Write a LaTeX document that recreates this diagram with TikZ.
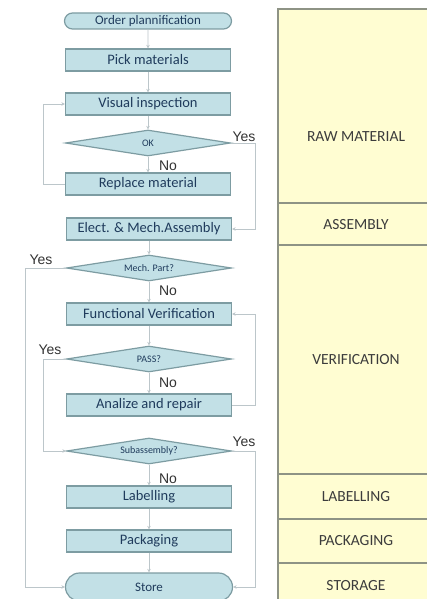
\documentclass[tikz,border=0pt]{standalone}
\usepackage{fontspec}
\setmainfont{Carlito}
\newfontfamily\lblfont{Liberation Sans}
\usetikzlibrary{shapes.geometric,shapes.misc,arrows.meta}
\definecolor{boxfill}{HTML}{C2E0E6}
\definecolor{boxline}{HTML}{7D9CA2}
\definecolor{boxtext}{HTML}{1F3B5C}
\definecolor{conn}{HTML}{BCC6CA}
\definecolor{panelfill}{HTML}{FFFDD2}
\definecolor{panelline}{HTML}{8E9385}
\definecolor{paneltext}{HTML}{3C3C3C}
\begin{document}
\begin{tikzpicture}[x=1pt,y=-1pt,
 procbox/.style={draw=boxline, line width=1.2pt, fill=boxfill, minimum width=165pt, minimum height=22pt, inner sep=0pt, font=\fontsize{14.5}{16}\selectfont, text=boxtext},
 termbox/.style={rounded rectangle, draw=boxline, line width=1.2pt, fill=boxfill, minimum width=167pt, inner sep=0pt, font=\fontsize{13}{14}\selectfont, text=boxtext},
 decbox/.style={diamond, aspect=6.35, draw=boxline, line width=1.2pt, fill=boxfill, minimum width=165pt, minimum height=26pt, inner sep=0pt, font=\fontsize{10}{11}\selectfont, text=boxtext},
 flow/.style={draw=conn, line width=0.9pt, -{Stealth[length=3.5pt,width=3.5pt]}},
 yn/.style={font=\lblfont\fontsize{14}{15}\selectfont, text=black!80, inner sep=0pt},
 lane/.style={font=\fontsize{15.5}{16}\selectfont, text=paneltext}]
\useasboundingbox (0,0) rectangle (427,599);
\fill[white] (0,0) rectangle (427,599);
% swimlane panel
\fill[panelfill] (278,9) rectangle (427,599);
\draw[panelline, line width=1.5pt] (278,599) -- (278,9) -- (427,9);
\draw[panelline, line width=1.5pt] (278,203) -- (427,203);
\draw[panelline, line width=1.5pt] (278,245) -- (427,245);
\draw[panelline, line width=1.5pt] (278,474) -- (427,474);
\draw[panelline, line width=1.5pt] (278,519) -- (427,519);
\draw[panelline, line width=1.5pt] (278,563) -- (427,563);
\node[lane] (lraw) at (356,137) {RAW MATERIAL};
\node[lane] (lasm) at (356,225) {ASSEMBLY};
\node[lane] (lver) at (356,360) {VERIFICATION};
\node[lane] (llab) at (356,497) {LABELLING};
\node[lane] (lpac) at (356,541) {PACKAGING};
\node[lane] (lsto) at (356,586) {STORAGE};
% flowchart nodes
\node[termbox, minimum height=16pt] (order) at (148,21) {Order plannification};
\node[procbox] (pick) at (148,60) {Pick materials};
\node[procbox] (visual) at (148,104) {Visual inspection};
\node[decbox] (ok) at (148,143) {OK};
\node[procbox] (replace) at (148,184) {Replace material};
\node[procbox] (elect) at (149,229) {Elect. \& Mech.Assembly};
\node[decbox] (mech) at (149,268) {Mech. Part?};
\node[procbox] (func) at (149,314) {Functional Verification};
\node[decbox] (pass) at (149,359) {PASS?};
\node[procbox] (analize) at (149,405) {Analize and repair};
\node[decbox] (sub) at (149,451) {Subassembly?};
\node[procbox] (label) at (149,497) {Labelling};
\node[procbox] (pack) at (149,541) {Packaging};
\node[termbox, minimum height=28pt] (store) at (149,587) {Store};
% connectors
\draw[flow] (order) -- (pick);
\draw[flow] (pick) -- (visual);
\draw[flow] (visual) -- (ok);
\draw[flow] (ok) -- (replace);
\draw[flow] (replace.west) -- (43,184) |- (visual.west);
\draw[flow] (ok.east) -- (255,143) |- (elect.east);
\draw[flow] (elect) -- (mech);
\draw[flow] (mech.west) -- (25,268) |- (store.west);
\draw[flow] (mech) -- (func);
\draw[flow] (func) -- (pass);
\draw[flow] (pass.west) -- (43,359) |- (sub.west);
\draw[flow] (pass) -- (analize);
\draw[flow] (analize.east) -- (255,405) |- (func.east);
\draw[flow] (sub.east) -- (255,451) |- (store.east);
\draw[flow] (sub) -- (label);
\draw[flow] (label) -- (pack);
\draw[flow] (pack) -- (store);
% labels
\node[yn] (y1) at (244,137) {Yes};
\node[yn] (n1) at (168,166) {No};
\node[yn] (y2) at (41,260) {Yes};
\node[yn] (n2) at (168,291) {No};
\node[yn] (y3) at (50,350) {Yes};
\node[yn] (n3) at (168,383) {No};
\node[yn] (y4) at (244,442) {Yes};
\node[yn] (n4) at (168,479) {No};
\end{tikzpicture}
\end{document}
